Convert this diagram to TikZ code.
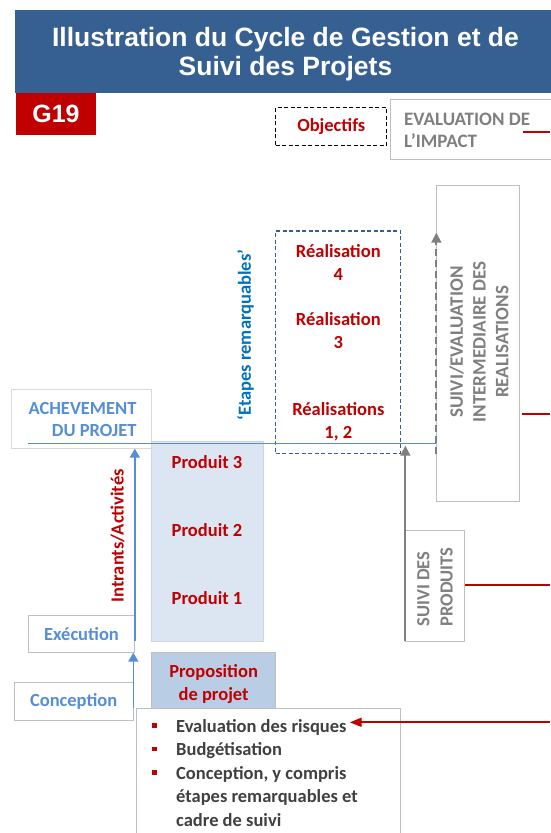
\documentclass[tikz,border=0pt]{standalone}
\usepackage{fontspec}
\setmainfont{Carlito}
\newfontfamily\headfont{Liberation Sans}
\usetikzlibrary{arrows.meta}

\definecolor{bannerblue}{HTML}{376092}
\definecolor{deepred}{HTML}{C00000}
\definecolor{softblue}{HTML}{558ED5}
\definecolor{labelblue}{HTML}{0070C0}
\definecolor{dashblue}{HTML}{3B5E8C}
\definecolor{arrowgray}{HTML}{7F7F7F}
\definecolor{edgegray}{HTML}{BFBFBF}
\definecolor{faintgray}{HTML}{D9D9D9}
\definecolor{outputfill}{HTML}{DCE6F2}
\definecolor{proposalfill}{HTML}{B9CDE5}
\definecolor{bodygray}{HTML}{404040}

\tikzset{
  lbl/.style={font=\fontsize{18.5}{23}\selectfont\bfseries, inner sep=0pt, align=center},
  redlbl/.style={lbl, text=deepred},
  bluelbl/.style={lbl, text=softblue},
  graylbl/.style={lbl, text=arrowgray},
  itemlbl/.style={lbl, text=bodygray, anchor=base west},
  panel/.style={draw=edgegray, line width=0.7pt, inner sep=0pt},
  bullet/.style={fill=deepred, minimum size=4.5pt, inner sep=0pt},
  redlink/.style={draw=deepred, line width=1.8pt},
  bluerise/.style={draw=softblue, line width=1.6pt, -{Triangle[length=9pt,width=10pt]}},
  grayrise/.style={draw=arrowgray, line width=1.8pt, -{Triangle[length=10pt,width=10pt]}},
}

\begin{document}
\begin{tikzpicture}[x=1pt,y=-1pt]
\useasboundingbox (0,0) rectangle (550,833);

% header band and reference tag
\node[fill=bannerblue, minimum width=536pt, minimum height=83pt, inner sep=0pt] (banner) at (283,51.5) {};
\node[font=\headfont\fontsize{26.5}{29}\selectfont\bfseries, text=white, align=center, inner sep=0pt] (title) at (285.5,54.5) {Illustration du Cycle de Gestion et de\\Suivi des Projets};
\node[fill=deepred, minimum width=80pt, minimum height=42pt, inner sep=0pt, font=\headfont\fontsize{25}{25}\selectfont\bfseries, text=white] (tag) at (56,114.3) {G19};

% objectives and impact evaluation
\node[draw=black, dash pattern=on 4pt off 2.5pt, line width=1.2pt, minimum width=111pt, minimum height=37.6pt, redlbl] (objectives) at (331.3,126.5) {Objectifs};
\node[panel, minimum width=170pt, minimum height=60pt] (impact) at (475.7,129.3) {};
\node[graylbl, font=\fontsize{19}{21.7}\selectfont\bfseries, align=left, anchor=west] (impacttext) at (404,130.2) {EVALUATION DE\\L’IMPACT};
\coordinate (impactstub) at (523.3,132.3);
\coordinate (impactedge) at (550,132.3);
\draw[redlink] (impactstub) -- (impactedge);

% intermediate monitoring of results
\node[panel, minimum width=82.6pt, minimum height=315.7pt] (midterm) at (478,343.2) {};
\node[graylbl, font=\fontsize{19}{22.8}\selectfont\bfseries, rotate=90] (midtermtext) at (479,342) {SUIVI/EVALUATION\\INTERMEDIAIRE DES\\REALISATIONS};
\coordinate (evaledge) at (550,414.3);
\draw[redlink] ([xshift=2.4pt]midterm.east |- evaledge) -- (evaledge);

% milestones
\node[draw=dashblue, dash pattern=on 4pt off 2.5pt, line width=1.3pt, minimum width=125pt, minimum height=222.3pt, inner sep=0pt] (milestones) at (338.2,342.2) {};
\node[redlbl] (real4) at (338.3,262) {Réalisation\\4};
\node[redlbl] (real3) at (338.3,330.7) {Réalisation\\3};
\node[redlbl] (real12) at (338.3,422) {Réalisations\\1, 2};
\node[lbl, text=labelblue, rotate=90] (milestonelabel) at (245.5,335) {‘Etapes remarquables’};

% project completion
\node[draw=faintgray, line width=0.7pt, minimum width=140.7pt, minimum height=59pt, inner sep=0pt] (achievement) at (81.35,418.8) {};
\node[bluelbl, font=\fontsize{18.5}{22.4}\selectfont\bfseries, align=right, anchor=east] (achievementtext) at (136.7,419.5) {ACHEVEMENT\\DU PROJET};

% outputs
\node[fill=outputfill, draw=outputfill!85!gray, line width=0.5pt, minimum width=111.3pt, minimum height=200.7pt, inner sep=0pt] (outputs) at (207.3,541.3) {};
\node[redlbl] (prod3) at (207,461.7) {Produit 3};
\node[redlbl] (prod2) at (207,530) {Produit 2};
\node[redlbl] (prod1) at (207,598.3) {Produit 1};

% completion line
\coordinate (finishstart) at (28.3,443.3);
\draw[softblue, line width=1.5pt] (finishstart) -- (finishstart -| midterm.west);

% output monitoring
\node[panel, minimum width=58.6pt, minimum height=111pt] (outputmon) at (435,585.5) {};
\node[graylbl, font=\fontsize{18.5}{23.4}\selectfont\bfseries, rotate=90, align=left, anchor=west] (outputmontext) at (435,626.7) {SUIVI DES\\PRODUITS};
\coordinate (outputedge) at (550,585);
\draw[redlink] (outputmon.east |- outputedge) -- (outputedge);

% monitoring arrows
\draw[grayrise] (outputmon.south west) -- (outputmon.south west |- 0,445.7);
\draw[grayrise, dash pattern=on 7pt off 4pt] (midterm.west |- 0,454) -- (midterm.west |- 0,232.7);

% execution and design
\node[redlbl, rotate=90] (inputs) at (117.5,535.8) {Intrants/Activités};
\node[panel, bluelbl, minimum width=106pt, minimum height=36.6pt] (execution) at (81.5,634) {Exécution};
\node[panel, bluelbl, minimum width=118.7pt, minimum height=37.7pt] (conception) at (73.65,701.15) {Conception};
\draw[bluerise] ([yshift=-7pt]execution.east) -- (execution.east |- achievement.south);
\draw[bluerise] ([yshift=-7pt]conception.east) -- (conception.east |- execution.south);

% project proposal
\node[panel, fill=proposalfill, redlbl, minimum width=123.8pt, minimum height=63pt] (proposal) at (213.6,683.8) {Proposition\\de projet};

% proposal contents
\node[panel, fill=white, minimum width=263.9pt, minimum height=150pt] (plan) at (268.75,783.3) {};
\node[itemlbl] (risk) at (176,732) {Evaluation des risques};
\node[itemlbl] (budget) at (176,755.5) {Budgétisation};
\node[itemlbl] (design) at (176,779) {Conception, y compris};
\node[itemlbl] (design2) at (176,802.5) {étapes remarquables et};
\node[itemlbl] (design3) at (176,826) {cadre de suivi};
\node[bullet] (b1) at (154.3,725.5) {};
\node[bullet] (b2) at (154.3,749) {};
\node[bullet] (b3) at (154.3,772.5) {};
\coordinate (riskfeed) at (550,722.3);
\draw[redlink, -{Triangle[length=12pt,width=9pt]}] (riskfeed) -- ([xshift=3pt]risk.east |- riskfeed);
\end{tikzpicture}
\end{document}
